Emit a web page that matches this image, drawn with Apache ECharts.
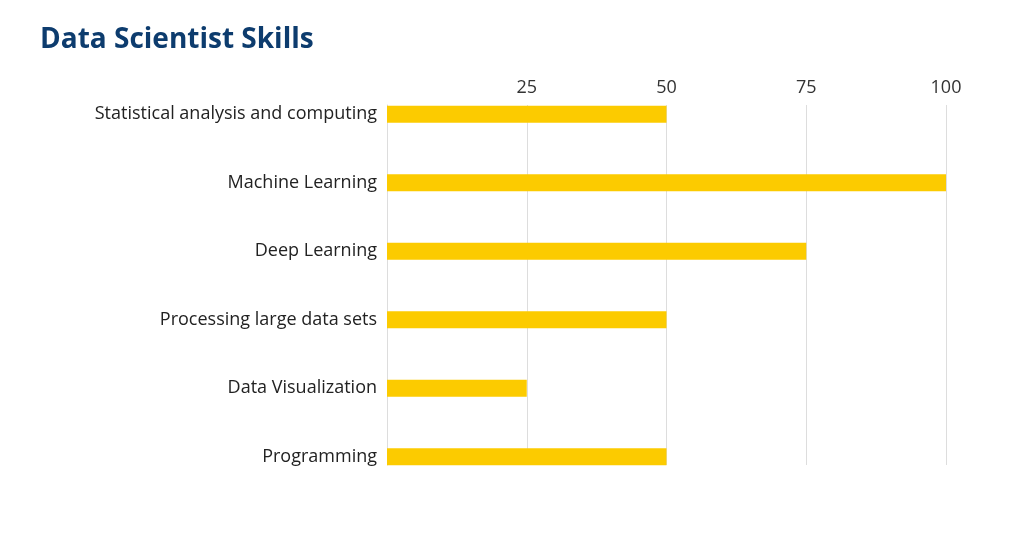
<!DOCTYPE html>
<html lang="en">
<head>
	<meta charset="UTF-8">
	<title>Data Scientist Skills</title>
	<style>
		html,body{margin:0px;padding:0px;background:#fff;}
		#show{width:1011px;height:540px;}
	</style>
</head>
<body>
	<div id="show"></div>
	<script src="https://cdn.jsdelivr.net/npm/echarts@6/dist/echarts.min.js"></script>
	<script type="text/javascript">
		// skills, top to bottom
		var skills = ['Statistical analysis and computing', 'Machine Learning', 'Deep Learning',
			'Processing large data sets', 'Data Visualization', 'Programming'];
		var scores = [50, 100, 75, 50, 25, 50];
		var xTicks = [0, 25, 50, 75, 100];

		var font = 'Open Sans';

		// grid 0 only carries the scale labels and grid lines (they stop at the outer bars),
		// grid 1 carries the category axis and the bars, on the same x range
		var option = {
			title: {
				text: 'Data Scientist Skills',
				left: 35,
				top: 21,
				textStyle: {
					fontFamily: font,
					fontWeight: 'bold',
					fontSize: 28,
					color: '#0d3c6e'
				}
			},
			grid: [
				{left: 387, right: 65, top: 105, bottom: 75},
				{left: 387, right: 65, top: 80, bottom: 49}
			],
			xAxis: [{
				type: 'value',
				gridIndex: 0,
				position: 'top',
				min: xTicks[0],
				max: xTicks[xTicks.length - 1],
				interval: 25,
				axisLine: {show: false},
				axisTick: {show: false},
				axisLabel: {
					margin: 8,
					fontFamily: font,
					fontSize: 18,
					color: '#333',
					formatter: function(v){ return v === 0 ? '' : v; }
				},
				splitLine: {lineStyle: {color: '#dddddd', width: 1}}
			}, {
				type: 'value',
				gridIndex: 1,
				min: xTicks[0],
				max: xTicks[xTicks.length - 1],
				show: false
			}],
			yAxis: [{
				type: 'value',
				gridIndex: 0,
				min: 0,
				max: 1,
				axisLine: {show: true, lineStyle: {color: '#dddddd'}},
				axisTick: {show: false},
				axisLabel: {show: false},
				splitLine: {show: false}
			}, {
				type: 'category',
				gridIndex: 1,
				inverse: true,
				data: skills,
				axisLine: {show: false},
				axisTick: {show: false},
				splitLine: {show: false},
				axisLabel: {
					margin: 10,
					fontFamily: font,
					fontSize: 18,
					color: '#222'
				}
			}],
			series: [{
				type: 'bar',
				xAxisIndex: 1,
				yAxisIndex: 1,
				data: scores,
				barWidth: 17,
				itemStyle: {color: '#fccb00'},
				silent: true
			}]
		};
		var myChart = echarts.init(document.getElementById('show'));
		myChart.setOption(option);
	</script>
</body>
</html>
